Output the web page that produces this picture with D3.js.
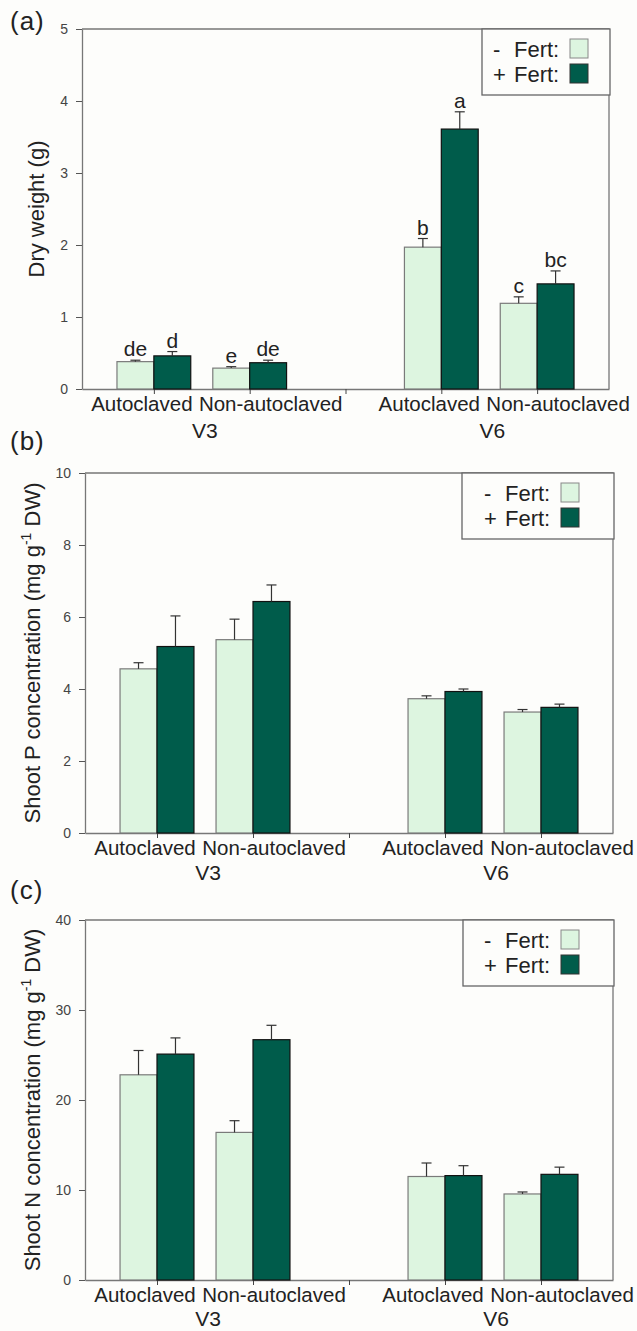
<!DOCTYPE html>
<html>
<head>
<meta charset="utf-8">
<script src="https://cdn.jsdelivr.net/npm/d3@7"></script>
<style>
  body { margin: 0; background: #fdfdfb; }
  svg { display: block; font-family: Arial, 'Liberation Sans', sans-serif; }
</style>
</head>
<body>
<div id="chart"></div>
<script>
const cultivars = ['V3', 'V6'];
const soils = ['Autoclaved', 'Non-autoclaved'];
const fertSigns = ['-', '+'];

// value order: V3 autoclaved, V3 non-autoclaved, V6 autoclaved, V6 non-autoclaved
const dryWeightNoFert = [0.38, 0.29, 1.97, 1.19];
const dryWeightNoFertErr = [0.02, 0.02, 0.12, 0.09];
const dryWeightFert = [0.46, 0.365, 3.61, 1.46];
const dryWeightFertErr = [0.06, 0.035, 0.24, 0.18];
const dryWeightLettersNoFert = ['de', 'e', 'b', 'c'];
const dryWeightLettersFert = ['d', 'de', 'a', 'bc'];
const dryWeightTicks = [0, 1, 2, 3, 4, 5];

const shootPNoFert = [4.56, 5.37, 3.73, 3.36];
const shootPNoFertErr = [0.17, 0.57, 0.08, 0.07];
const shootPFert = [5.18, 6.43, 3.93, 3.49];
const shootPFertErr = [0.85, 0.46, 0.07, 0.09];
const shootPTicks = [0, 2, 4, 6, 8, 10];

const shootNNoFert = [22.8, 16.4, 11.5, 9.56];
const shootNNoFertErr = [2.7, 1.3, 1.5, 0.22];
const shootNFert = [25.1, 26.7, 11.6, 11.74];
const shootNFertErr = [1.8, 1.6, 1.1, 0.8];
const shootNTicks = [0, 10, 20, 30, 40];

// colors
const bgColor = '#fdfdfb';
const noFertColor = '#ddf5e0';
const fertColor = '#005c4b';
const axisColor = '#777';
const textColor = '#222';

const width = 637;
const height = 1331;

const svg = d3.select('#chart')
  .append('svg')
  .attr('width', width)
  .attr('height', height);

svg.append('rect')
  .attr('width', width)
  .attr('height', height)
  .attr('fill', bgColor);

function rowsFor(noFert, noFertErr, fert, fertErr, lettersNo, lettersFert) {
  const rows = [];
  cultivars.forEach((c, ci) => {
    soils.forEach((s, si) => {
      const i = ci * soils.length + si;
      rows.push({
        cultivar: c,
        soil: s,
        slot: ci * 3 + si,
        noFert: noFert[i],
        noFertErr: noFertErr[i],
        fert: fert[i],
        fertErr: fertErr[i],
        letterNo: lettersNo ? lettersNo[i] : null,
        letterFert: lettersFert ? lettersFert[i] : null
      });
    });
  });
  return rows;
}

function drawPanel(cfg) {
  const x = d3.scaleLinear().domain([-0.75, 4.75]).range([cfg.left, cfg.right]);
  const y = d3.scaleLinear().domain([0, d3.max(cfg.ticks)]).range([cfg.bottom, cfg.top]);
  const bw = x(0.385) - x(0);

  const g = svg.append('g');

  // frame on top and right
  g.append('path')
    .attr('d', `M${cfg.left},${cfg.top}H${cfg.right}V${cfg.bottom}`)
    .attr('fill', 'none')
    .attr('stroke', axisColor)
    .attr('stroke-width', 1.3);

  const yAxis = d3.axisLeft(y)
    .tickValues(cfg.ticks)
    .tickFormat(d3.format('d'))
    .tickSize(6)
    .tickPadding(8)
    .tickSizeOuter(0);

  g.append('g')
    .attr('transform', `translate(${cfg.left},0)`)
    .call(yAxis)
    .call(a => a.select('.domain').attr('stroke', axisColor).attr('stroke-width', 1.3))
    .call(a => a.selectAll('.tick line').attr('stroke', '#555'))
    .call(a => a.selectAll('.tick text')
      .attr('fill', '#444')
      .style('font-size', '14px')
      .style('font-family', 'Arial, "Liberation Sans", sans-serif'));

  const xAxis = d3.axisBottom(x)
    .tickValues([0, 1, 2, 3, 4])
    .tickSize(5)
    .tickFormat('')
    .tickSizeOuter(0);

  g.append('g')
    .attr('transform', `translate(0,${cfg.bottom})`)
    .call(xAxis)
    .call(a => a.select('.domain').attr('stroke', axisColor).attr('stroke-width', 1.3))
    .call(a => a.selectAll('.tick line').attr('stroke', '#444'));

  const rows = cfg.rows;

  // bars
  const bars = g.append('g').selectAll('g').data(rows).join('g');

  bars.append('rect')
    .attr('x', d => x(d.slot) - bw)
    .attr('y', d => y(d.noFert))
    .attr('width', bw)
    .attr('height', d => cfg.bottom - y(d.noFert))
    .attr('fill', noFertColor)
    .attr('stroke', '#7a7a7a')
    .attr('stroke-width', 1.2);

  bars.append('rect')
    .attr('x', d => x(d.slot))
    .attr('y', d => y(d.fert))
    .attr('width', bw)
    .attr('height', d => cfg.bottom - y(d.fert))
    .attr('fill', fertColor)
    .attr('stroke', '#111')
    .attr('stroke-width', 1.2);

  // error bars, upper half only
  const errs = [];
  rows.forEach(d => {
    errs.push({ cx: x(d.slot) - bw / 2, v: d.noFert, e: d.noFertErr, letter: d.letterNo });
    errs.push({ cx: x(d.slot) + bw / 2, v: d.fert, e: d.fertErr, letter: d.letterFert });
  });

  const eg = g.append('g').selectAll('g').data(errs).join('g');
  eg.append('line')
    .attr('x1', d => d.cx).attr('x2', d => d.cx)
    .attr('y1', d => y(d.v)).attr('y2', d => y(d.v + d.e))
    .attr('stroke', '#333').attr('stroke-width', 1.2);
  eg.append('line')
    .attr('x1', d => d.cx - 5).attr('x2', d => d.cx + 5)
    .attr('y1', d => y(d.v + d.e)).attr('y2', d => y(d.v + d.e))
    .attr('stroke', '#333').attr('stroke-width', 1.2);

  eg.filter(d => d.letter)
    .append('text')
    .attr('x', d => d.cx)
    .attr('y', d => y(d.v + d.e) - 4)
    .attr('text-anchor', 'middle')
    .attr('fill', textColor)
    .style('font-size', '21px')
    .text(d => d.letter);

  // category labels
  g.append('g').selectAll('text').data(rows).join('text')
    .attr('x', d => x(d.slot) + (d.soil === 'Autoclaved' ? -12 : 21))
    .attr('y', cfg.bottom + 22)
    .attr('text-anchor', 'middle')
    .attr('fill', textColor)
    .style('font-size', '20.5px')
    .text(d => d.soil);

  g.append('g').selectAll('text').data(cultivars).join('text')
    .attr('x', (d, i) => x(i * 3 + 0.5) + 3)
    .attr('y', cfg.bottom + cfg.groupDy)
    .attr('text-anchor', 'middle')
    .attr('fill', textColor)
    .style('font-size', '21px')
    .text(d => d);

  // y title
  const title = g.append('text')
    .attr('transform', `translate(${cfg.titleX},${(cfg.top + cfg.bottom) / 2}) rotate(-90)`)
    .attr('text-anchor', 'middle')
    .attr('fill', textColor)
    .style('font-size', '22px');
  title.append('tspan').text(cfg.title[0]);
  if (cfg.title.length > 1) {
    title.append('tspan').attr('dy', -9).style('font-size', '14px').text(cfg.title[1]);
    title.append('tspan').attr('dy', 9).text(cfg.title[2]);
  }

  // panel letter
  svg.append('text')
    .attr('x', 10)
    .attr('y', cfg.labelY)
    .attr('fill', textColor)
    .style('font-size', '26px')
    .style('letter-spacing', '1px')
    .text(cfg.label);

  // legend
  const lg = g.append('g');
  lg.append('rect')
    .attr('x', cfg.legendX)
    .attr('y', cfg.top)
    .attr('width', cfg.right + 1 - cfg.legendX)
    .attr('height', 66)
    .attr('fill', bgColor)
    .attr('stroke', '#666')
    .attr('stroke-width', 1.3);

  const swatchX = cfg.swatchX;
  const legendItems = lg.selectAll('g.item').data(fertSigns).join('g').attr('class', 'item');
  legendItems.append('text')
    .attr('x', swatchX - 77)
    .attr('y', (d, i) => cfg.top + 28 + i * 25)
    .attr('fill', textColor)
    .style('font-size', '22px')
    .text(d => d);
  legendItems.append('text')
    .attr('x', swatchX - 56)
    .attr('y', (d, i) => cfg.top + 28 + i * 25)
    .attr('fill', textColor)
    .style('font-size', '22px')
    .text('Fert:');
  legendItems.append('rect')
    .attr('x', swatchX)
    .attr('y', (d, i) => cfg.top + 10 + i * 25)
    .attr('width', 18)
    .attr('height', 19)
    .attr('fill', (d, i) => i === 0 ? noFertColor : fertColor)
    .attr('stroke', (d, i) => i === 0 ? '#888' : '#333')
    .attr('stroke-width', 1);
}

drawPanel({
  label: '(a)', labelY: 30,
  left: 82, right: 609, top: 29, bottom: 389, groupDy: 49,
  ticks: dryWeightTicks,
  rows: rowsFor(dryWeightNoFert, dryWeightNoFertErr, dryWeightFert, dryWeightFertErr,
    dryWeightLettersNoFert, dryWeightLettersFert),
  title: ['Dry weight (g)'], titleX: 44,
  legendX: 482, swatchX: 570
});

drawPanel({
  label: '(b)', labelY: 450,
  left: 85, right: 613, top: 473, bottom: 833, groupDy: 47,
  ticks: shootPTicks,
  rows: rowsFor(shootPNoFert, shootPNoFertErr, shootPFert, shootPFertErr),
  title: ['Shoot P concentration (mg g', '-1', ' DW)'], titleX: 40,
  legendX: 462, swatchX: 561
});

drawPanel({
  label: '(c)', labelY: 899,
  left: 85, right: 613, top: 920, bottom: 1280, groupDy: 46,
  ticks: shootNTicks,
  rows: rowsFor(shootNNoFert, shootNNoFertErr, shootNFert, shootNFertErr),
  title: ['Shoot N concentration (mg g', '-1', ' DW)'], titleX: 40,
  legendX: 463, swatchX: 561
});
</script>
</body>
</html>
